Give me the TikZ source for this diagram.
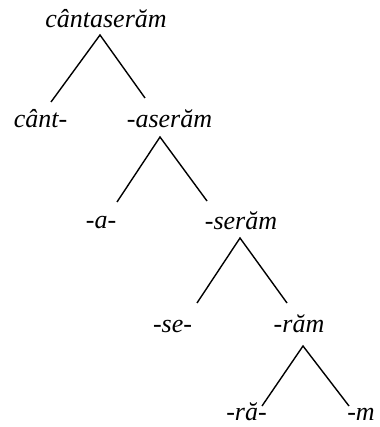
\documentclass[tikz,border=0pt]{standalone}
\usepackage{fontspec}
\setmainfont{Liberation Serif}
\usepackage{tikz}
\usetikzlibrary{positioning}

\tikzset{
  morph/.style={anchor=base, inner sep=0pt, text depth=0pt, font=\fontsize{26}{30}\selectfont\itshape},
  branch/.style={line width=1.4pt}
}

\begin{document}
\begin{tikzpicture}[x=1pt, y=-1pt]
\useasboundingbox (0,0) rectangle (379,427);
% word and its segments
\node[morph] (top) at (106,28) {cântaserăm};
\node[morph] (cant) at (40.5,128) {cânt-};
\node[morph] (aseram) at (169.5,128) {-aserăm};
\node[morph] (a) at (101,228) {-a-};
\node[morph] (seram) at (241,229) {-serăm};
\node[morph] (se) at (172.5,332) {-se-};
\node[morph] (ram) at (299,332) {-răm};
\node[morph] (ra) at (246.5,420) {-ră-};
\node[morph] (m) at (361,420) {-m};

% branches
\draw[branch] ([xshift=10.5pt,yshift=26pt]cant.base) -- ([xshift=-6pt,yshift=-7pt]top.base) -- ([xshift=-24.5pt,yshift=30pt]aseram.base);
\draw[branch] ([xshift=16pt,yshift=26pt]a.base) -- ([xshift=-9.5pt,yshift=-9pt]aseram.base) -- ([xshift=-34pt,yshift=28pt]seram.base);
\draw[branch] ([xshift=24.5pt,yshift=29pt]se.base) -- ([xshift=-1pt,yshift=-9pt]seram.base) -- ([xshift=-12pt,yshift=29pt]ram.base);
\draw[branch] ([xshift=15.5pt,yshift=14pt]ra.base) -- ([xshift=4pt,yshift=-14pt]ram.base) -- ([xshift=-12pt,yshift=14pt]m.base);
\end{tikzpicture}
\end{document}
